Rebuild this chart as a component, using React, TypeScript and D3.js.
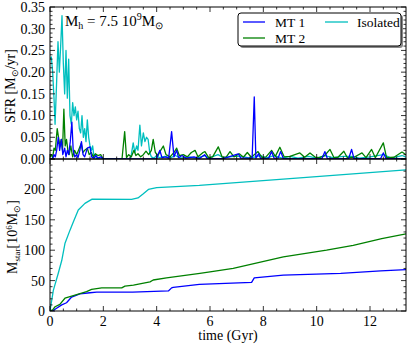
import React from "react";
import * as d3 from "d3";

// ---- data (t in Gyr) ----
const sfrIsolated: [number, number][] = [
  [0,0.23],[0.05,0.235],[0.1,0.2],[0.15,0.14],[0.19,0.08],[0.25,0.18],[0.3,0.27],[0.35,0.2],[0.4,0.26],[0.45,0.33],
  [0.5,0.22],[0.55,0.15],[0.6,0.25],[0.65,0.14],[0.7,0.23],[0.75,0.1],[0.8,0.08],[0.85,0.13],[0.9,0.1],[0.95,0.12],
  [1.0,0.09],[1.05,0.11],[1.1,0.07],[1.15,0.06],[1.2,0.1],[1.25,0.05],[1.3,0.07],[1.35,0.04],[1.4,0.09],[1.45,0.05],
  [1.5,0.03],[1.55,0.02],[1.6,0.03],[1.65,0.005],[1.7,0.01],[1.75,0],[3.0,0],[3.05,0.01],[3.12,0.037],[3.18,0.015],
  [3.25,0.03],[3.3,0.02],[3.37,0.078],[3.43,0.03],[3.5,0.06],[3.56,0.04],[3.62,0.05],[3.68,0.045],[3.74,0.015],[3.8,0.005],
  [3.9,0.002],[4.0,0.008],[4.1,0.003],[4.3,0.006],[4.5,0.002],[4.7,0.008],[4.9,0.002],[5.2,0.005],[5.5,0.002],[5.8,0.008],
  [5.95,0.002],[6.3,0.01],[6.5,0.003],[6.9,0.006],[7.2,0.006],[7.5,0.002],[7.9,0.008],[8.1,0.002],[8.4,0.008],[8.7,0.002],
  [9.0,0.006],[9.3,0.002],[9.7,0.006],[10.0,0.002],[10.3,0.008],[10.6,0.003],[11.0,0.006],[11.3,0.006],[11.6,0.002],[12.0,0.005],
  [12.5,0.01],[12.8,0.002],[13.2,0.008],[13.35,0.004]
];
const sfrMT2: [number, number][] = [
  [0,0.005],[0.05,0.01],[0.1,0.003],[0.15,0.025],[0.2,0.02],[0.27,0.07],[0.32,0.05],[0.37,0.03],[0.42,0.045],[0.47,0.02],
  [0.52,0.115],[0.57,0.03],[0.62,0.045],[0.67,0.02],[0.72,0.01],[0.78,0.03],[0.85,0.005],[0.92,0.02],[1.0,0.01],[1.1,0.025],
  [1.17,0.036],[1.23,0.015],[1.3,0.02],[1.4,0.025],[1.47,0.01],[1.55,0.015],[1.62,0.005],[1.7,0.012],[1.8,0.008],[1.9,0.01],
  [2.0,0],[2.7,0],[2.8,0.063],[2.87,0.003],[2.95,0.01],[3.05,0.005],[3.15,0.02],[3.22,0.008],[3.3,0.012],[3.4,0.005],
  [3.5,0.01],[3.6,0.018],[3.7,0.01],[3.8,0.02],[3.87,0.045],[3.95,0.015],[4.05,0.008],[4.15,0.02],[4.25,0.03],[4.35,0.01],
  [4.5,0.005],[4.65,0.015],[4.75,0.025],[4.85,0.008],[5.0,0.01],[5.15,0.005],[5.3,0.015],[5.44,0.02],[5.55,0.005],[5.74,0.015],
  [5.81,0.017],[5.95,0.003],[6.1,0.005],[6.31,0.028],[6.45,0.005],[6.6,0.004],[6.75,0.017],[6.9,0.005],[7.1,0.012],[7.25,0.004],
  [7.4,0.015],[7.55,0.004],[7.8,0.017],[7.95,0.003],[8.1,0.005],[8.31,0.02],[8.45,0.006],[8.62,0.027],[8.78,0.005],[9.0,0.006],
  [9.37,0.014],[9.55,0.004],[9.75,0.014],[9.95,0.004],[10.1,0.003],[10.3,0.008],[10.5,0.022],[10.65,0.003],[10.8,0.004],[11.02,0.018],
  [11.15,0.003],[11.4,0.004],[11.7,0.014],[11.85,0.003],[12.06,0.022],[12.2,0.003],[12.5,0.037],[12.62,0.003],[12.9,0.004],[13.2,0.016],
  [13.35,0.01]
];
const sfrMT1: [number, number][] = [
  [0,0],[0.1,0],[0.15,0.01],[0.2,0.005],[0.25,0.02],[0.31,0.05],[0.36,0.02],[0.43,0.045],[0.48,0.01],[0.55,0.025],
  [0.6,0.005],[0.65,0.02],[0.7,0.01],[0.76,0.04],[0.82,0.085],[0.87,0.02],[0.93,0.005],[1.0,0.01],[1.05,0.003],[1.12,0.02],
  [1.18,0.04],[1.24,0.01],[1.3,0.005],[1.4,0.025],[1.5,0.028],[1.56,0.005],[1.65,0.002],[1.72,0.008],[1.8,0.002],[1.9,0.005],
  [2.0,0],[4.0,0],[4.05,0.01],[4.12,0.02],[4.2,0.003],[4.35,0.005],[4.45,0.002],[4.56,0.063],[4.65,0.005],[4.75,0.02],
  [4.82,0.003],[4.95,0.008],[5.1,0.002],[5.4,0.005],[5.6,0.001],[5.8,0.01],[5.9,0.001],[6.5,0.001],[7.06,0.012],[7.15,0.002],
  [7.58,0.002],[7.66,0.143],[7.72,0.002],[7.82,0.012],[7.9,0.001],[8.2,0.002],[8.31,0.017],[8.4,0.002],[8.55,0.002],[8.65,0.017],
  [8.75,0.001],[10.2,0.001],[10.31,0.017],[10.4,0.001],[11.2,0.001],[11.31,0.022],[11.4,0.001],[12.4,0.001],[12.5,0.014],[12.6,0.001],
  [13.35,0.001]
];

const mIsolated: [number, number][] = [
  [0,0],[0.125,34],[0.31,62],[0.44,83],[0.56,111],[0.75,133],[0.87,146],[1.06,166],[1.31,177],[1.5,182],[1.58,184],
  [3.06,183.5],[3.3,186],[3.5,193],[3.69,200],[4.0,203],[5.6,206.5],[9.37,219],[13.35,232]
];
const mMT2: [number, number][] = [
  [0,0],[0.1,2],[0.19,7],[0.37,11],[0.56,21],[1.0,27],[1.37,32],[1.56,35.5],[1.94,38],[2.69,38],[2.81,41],[3.13,42.6],
  [3.75,48],[3.87,51],[4.37,54.6],[5.62,62],[6.0,64.4],[6.87,70],[8.75,89],[10.37,100],[11.37,108],[12.44,119],[13.35,127]
];
const mMT1: [number, number][] = [
  [0,0],[0.1,0],[0.19,3],[0.44,10],[0.62,13.6],[0.81,23],[1.12,28],[1.5,30],[1.75,31],[3.1,31],[4.44,33],[4.56,38],
  [4.62,39],[5.6,43.7],[7.56,47],[7.66,54.6],[8.75,59],[10.9,62],[12.4,66],[13.35,68]
];

const xTicks = [0, 2, 4, 6, 8, 10, 12];
const sfrTicks = [0, 0.05, 0.1, 0.15, 0.2, 0.25, 0.3, 0.35];
const mTicks = [0, 50, 100, 150, 200, 250];
const mTickLabels = [0, 50, 100, 150, 200];

const series = [
  { name: "MT 1", color: "#0000ff", sfr: sfrMT1, m: mMT1 },
  { name: "MT 2", color: "#008000", sfr: sfrMT2, m: mMT2 },
  { name: "Isolated", color: "#00bfbf", sfr: sfrIsolated, m: mIsolated },
];

const FONT = "Liberation Serif";

export default function App() {
  const L = 50, R = 406, T1 = 7, B1 = 159, T2 = 159, B2 = 311;
  const x = d3.scaleLinear().domain([0, 13.35]).range([L, R]);
  const yS = d3.scaleLinear().domain([0, 0.35]).range([B1, T1]);
  const yM = d3.scaleLinear().domain([0, 250]).range([B2, T2]);
  const xMinor = d3.range(0, 13.36, 0.5);
  const sMinor = d3.range(0, 0.351, 0.01);
  const mMinor = d3.range(0, 251, 10);

  const lineS = d3.line<[number, number]>().x(d => x(d[0])).y(d => yS(d[1]));
  const lineM = d3.line<[number, number]>().x(d => x(d[0])).y(d => yM(d[1]));

  const drawOrderTop = [series[2], series[1], series[0]];
  const drawOrderBottom = [series[0], series[1], series[2]];

  const ticksFor = (top: number, bottom: number, yScale: any, yMaj: number[], yMin: number[]) => {
    const els: any[] = [];
    xMinor.forEach((t, i) => {
      const major = Math.abs(t / 2 - Math.round(t / 2)) < 1e-6;
      const len = major ? 5 : 2.5;
      els.push(<line key={`xb${top}-${i}`} x1={x(t)} x2={x(t)} y1={bottom} y2={bottom - len} stroke="#000" strokeWidth={0.8} />);
      els.push(<line key={`xt${top}-${i}`} x1={x(t)} x2={x(t)} y1={top} y2={top + len} stroke="#000" strokeWidth={0.8} />);
    });
    yMin.forEach((v, i) => {
      const major = yMaj.some(m => Math.abs(m - v) < 1e-9);
      const len = major ? 5 : 2.5;
      const yy = yScale(v);
      els.push(<line key={`yl${top}-${i}`} x1={L} x2={L + len} y1={yy} y2={yy} stroke="#000" strokeWidth={0.8} />);
      els.push(<line key={`yr${top}-${i}`} x1={R} x2={R - len} y1={yy} y2={yy} stroke="#000" strokeWidth={0.8} />);
    });
    return els;
  };

  return (
    <svg width={415} height={346} style={{ position: "absolute", left: 0, top: 0, background: "#fff", fontFamily: FONT }}>
      <defs>
        <clipPath id="c1"><rect x={L} y={T1} width={R - L} height={B1 - T1} /></clipPath>
        <clipPath id="c2"><rect x={L} y={T2} width={R - L} height={B2 - T2} /></clipPath>
      </defs>
      <rect x={0} y={0} width={415} height={346} fill="#fff" />

      <g clipPath="url(#c1)">
        {drawOrderTop.map(s => (
          <path key={s.name} d={lineS(s.sfr) || ""} fill="none" stroke={s.color} strokeWidth={1.3} strokeLinejoin="round" />
        ))}
      </g>
      <g clipPath="url(#c2)">
        {drawOrderBottom.map(s => (
          <path key={s.name} d={lineM(s.m) || ""} fill="none" stroke={s.color} strokeWidth={1.3} strokeLinejoin="round" />
        ))}
      </g>

      {ticksFor(T1, B1, yS, sfrTicks, sMinor)}
      {ticksFor(T2, B2, yM, mTicks, mMinor)}

      <rect x={L} y={T1} width={R - L} height={B1 - T1} fill="none" stroke="#000" strokeWidth={1} />
      <rect x={L} y={T2} width={R - L} height={B2 - T2} fill="none" stroke="#000" strokeWidth={1} />

      {sfrTicks.map(v => (
        <text key={`sl${v}`} x={45} y={yS(v)} dy="0.35em" textAnchor="end" fontSize={14}>{v.toFixed(2)}</text>
      ))}
      {mTickLabels.map(v => (
        <text key={`ml${v}`} x={45} y={yM(v)} dy="0.35em" textAnchor="end" fontSize={14}>{v}</text>
      ))}
      {xTicks.map(v => (
        <text key={`xl${v}`} x={x(v)} y={326} textAnchor="middle" fontSize={14}>{v}</text>
      ))}

      <text x={228} y={340} textAnchor="middle" fontSize={14}>time (Gyr)</text>
      <text transform={`translate(15, ${(T1 + B1) / 2 + 3}) rotate(-90)`} textAnchor="middle" fontSize={14}>
        SFR [M<tspan fontSize={9} dy={3}>⊙</tspan><tspan dy={-3}>/yr]</tspan>
      </text>
      <text transform={`translate(17, ${(T2 + B2) / 2 + 2}) rotate(-90)`} textAnchor="middle" fontSize={14}>
        M<tspan fontSize={9} dy={3}>star</tspan><tspan dy={-3}>[10</tspan><tspan fontSize={9} dy={-5}>6</tspan><tspan dy={5}>M</tspan><tspan fontSize={9} dy={3}>⊙</tspan><tspan dy={-3}>]</tspan>
      </text>

      <text x={65} y={26} fontSize={15}>
        M<tspan fontSize={10} dy={3}>h</tspan><tspan dy={-3}> = 7.5 10</tspan><tspan fontSize={10} dy={-6}>9</tspan><tspan dy={6}>M</tspan><tspan fontSize={10} dy={3}>⊙</tspan>
      </text>

      <g>
        <rect x={240} y={15} width={163} height={33} rx={3} fill="#888" />
        <rect x={238} y={13} width={163} height={33} rx={3} fill="#fff" stroke="#000" strokeWidth={1} />
        <line x1={243} x2={265} y1={22} y2={22} stroke={series[0].color} strokeWidth={1.3} />
        <text x={275} y={26.5} fontSize={13.5}>{series[0].name}</text>
        <line x1={325} x2={348} y1={22} y2={22} stroke={series[2].color} strokeWidth={1.3} />
        <text x={357} y={26.5} fontSize={13.5}>{series[2].name}</text>
        <line x1={243} x2={265} y1={38} y2={38} stroke={series[1].color} strokeWidth={1.3} />
        <text x={275} y={42.5} fontSize={13.5}>{series[1].name}</text>
      </g>
    </svg>
  );
}
